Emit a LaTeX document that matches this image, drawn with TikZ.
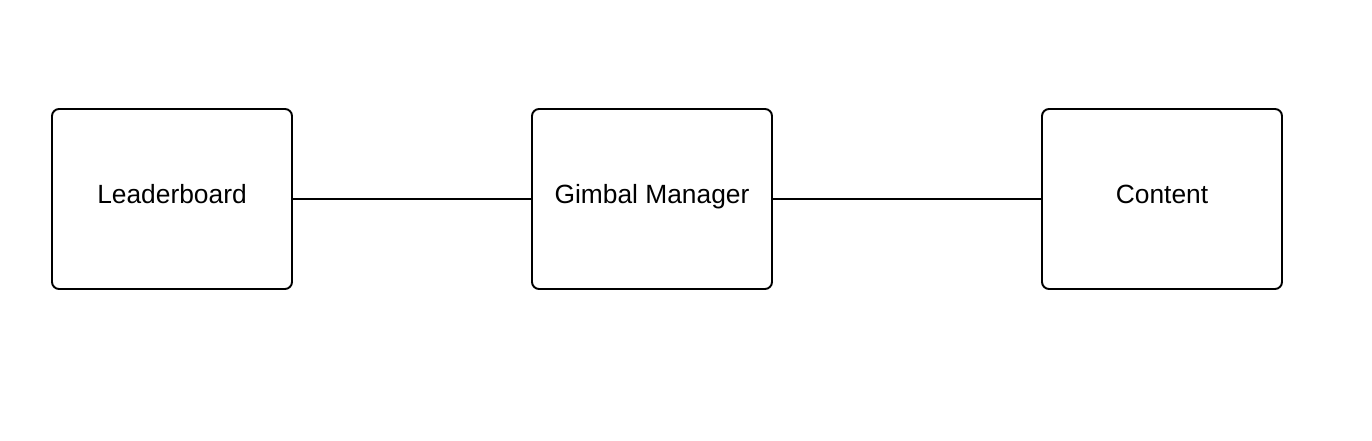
\documentclass[tikz,border=0pt]{standalone}
\usepackage{fontspec}
\setmainfont{Liberation Sans}
\usetikzlibrary{positioning}

\begin{document}
\begin{tikzpicture}[
  box/.style={draw, line width=1.1pt, rounded corners=4pt, align=center,
    minimum width=4.8cm, minimum height=3.6cm, inner sep=2pt, outer sep=0pt,
    text height=0.3cm, text depth=0.12cm,
    font=\fontsize{15}{18}\selectfont},
  link/.style={line width=1.1pt}
]
\useasboundingbox (0,0) rectangle (27.44,8.8);
\node[box] (leader) at (3.44,4.82) {Leaderboard};
\node[box, right=4.8cm of leader] (gimbal) {Gimbal Manager};
\node[box, right=5.4cm of gimbal] (content) {Content};
\draw[link] (leader) -- (gimbal);
\draw[link] (gimbal) -- (content);
\end{tikzpicture}
\end{document}
